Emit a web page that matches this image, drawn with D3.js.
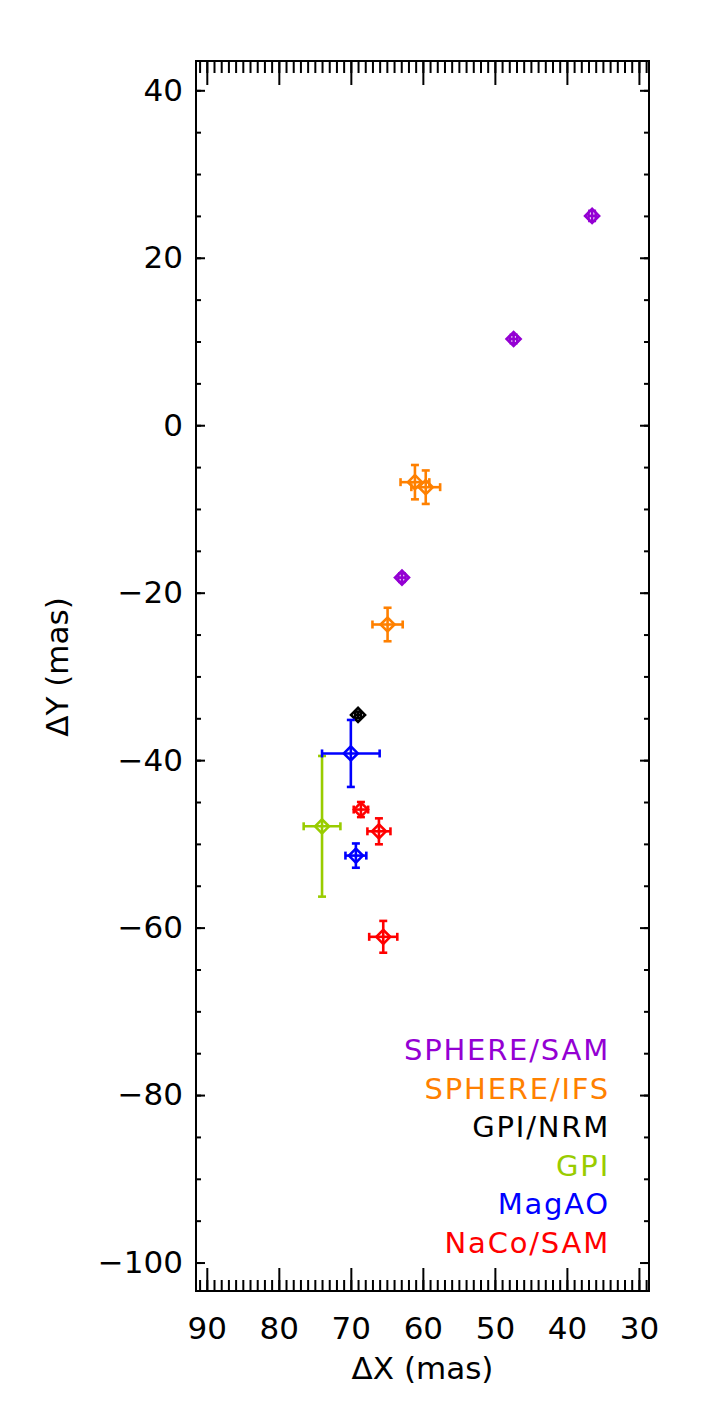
<!DOCTYPE html>
<html lang="en">
<head>
  <meta charset="UTF-8">
  <script src="https://d3js.org/d3.v7.min.js"></script>
  <title>Relative astrometry</title>
  <style>
    body { margin: 0; background: #fff; }
    text { font-family: "DejaVu Sans", sans-serif; }
  </style>
</head>
<body>
  <svg id="chart" width="709" height="1417"></svg>
  <script>
    // instruments (legend order) and their colours
    var instruments = ["SPHERE/SAM", "SPHERE/IFS", "GPI/NRM", "GPI", "MagAO", "NaCo/SAM"];
    var colors = ["#9400d3", "#ff8000", "#000000", "#99cc00", "#0000ff", "#ff0000"];

    // measurements: offset in mas and 1-sigma errors
    var pointInst = ["SPHERE/SAM", "SPHERE/SAM", "SPHERE/SAM",
                     "SPHERE/IFS", "SPHERE/IFS", "SPHERE/IFS",
                     "GPI/NRM", "GPI", "MagAO", "MagAO",
                     "NaCo/SAM", "NaCo/SAM", "NaCo/SAM"];
    var dx   = [36.5, 47.4, 62.9, 61.1, 59.6, 64.9, 69.0, 74.0, 70.0, 69.3, 68.6, 66.1, 65.5];
    var dy   = [25.0, 10.3, -18.2, -6.8, -7.4, -23.8, -34.6, -47.9, -39.2, -51.4, -45.9, -48.5, -61.1];
    var dxErr = [0.5, 0.5, 0.5, 2.0, 2.0, 2.1, 0.4, 2.55, 4.0, 1.45, 1.0, 1.6, 1.95];
    var dyErr = [0.6, 0.5, 0.5, 2.05, 2.0, 2.0, 0.4, 8.4, 4.0, 1.45, 0.9, 1.55, 1.9];

    // axis ticks
    var xMajor = [90, 80, 70, 60, 50, 40, 30];
    var yMajor = [40, 20, 0, -20, -40, -60, -80, -100];
    var xMinor = d3.range(29, 92, 1);
    var yMinor = d3.range(-100, 41, 5);

    var svg = d3.select("#chart");
    var pLeft = 196, pRight = 649, pTop = 61, pBottom = 1291;

    var x = d3.scaleLinear().domain([91.5, 28.6]).range([pLeft, pRight]);
    var y = d3.scaleLinear().domain([43.5, -103.4]).range([pTop, pBottom]);
    var color = d3.scaleOrdinal().domain(instruments).range(colors);

    function style(g) {
      g.attr("font-size", null).attr("font-family", null);
      g.select(".domain").remove();
      g.selectAll(".tick line").attr("stroke", "#000").attr("stroke-width", 2);
      g.selectAll(".tick text").attr("fill", "#000").style("font-size", "31px");
    }

    // bottom axis with labels
    svg.append("g").attr("transform", "translate(0," + pBottom + ")")
      .call(d3.axisBottom(x).tickValues(xMinor).tickSize(-11).tickFormat(""))
      .call(style);
    svg.append("g").attr("transform", "translate(0," + pBottom + ")")
      .call(d3.axisBottom(x).tickValues(xMajor).tickSize(-23).tickPadding(26).tickFormat(d3.format("d")))
      .call(style);
    // top axis mirror
    svg.append("g").attr("transform", "translate(0," + pTop + ")")
      .call(d3.axisTop(x).tickValues(xMinor).tickSize(-12).tickFormat(""))
      .call(style);
    svg.append("g").attr("transform", "translate(0," + pTop + ")")
      .call(d3.axisTop(x).tickValues(xMajor).tickSize(-24).tickFormat(""))
      .call(style);

    // left axis with labels
    svg.append("g").attr("transform", "translate(" + pLeft + ",0)")
      .call(d3.axisLeft(y).tickValues(yMinor).tickSize(-5).tickFormat(""))
      .call(style);
    svg.append("g").attr("transform", "translate(" + pLeft + ",0)")
      .call(d3.axisLeft(y).tickValues(yMajor).tickSize(-9).tickPadding(13).tickFormat(d3.format("d")))
      .call(style);
    // right axis mirror
    svg.append("g").attr("transform", "translate(" + pRight + ",0)")
      .call(d3.axisRight(y).tickValues(yMinor).tickSize(-5).tickFormat(""))
      .call(style);
    svg.append("g").attr("transform", "translate(" + pRight + ",0)")
      .call(d3.axisRight(y).tickValues(yMajor).tickSize(-9).tickFormat(""))
      .call(style);

    // frame
    svg.append("rect")
      .attr("x", pLeft).attr("y", pTop)
      .attr("width", pRight - pLeft).attr("height", pBottom - pTop)
      .attr("fill", "none").attr("stroke", "#000").attr("stroke-width", 2);

    // axis titles
    svg.append("text")
      .attr("x", (pLeft + pRight) / 2).attr("y", 1379)
      .attr("text-anchor", "middle").style("font-size", "31px")
      .text("ΔX (mas)");
    svg.append("text")
      .attr("transform", "translate(68,667) rotate(-90)")
      .attr("text-anchor", "middle").style("font-size", "31px")
      .text("ΔY (mas)");

    // points with error bars
    var pts = dx.map(function(d, i) {
      return { x: d, y: dy[i], ex: dxErr[i], ey: dyErr[i], inst: pointInst[i] };
    });
    var cap = 4, r = 7;
    var g = svg.append("g").selectAll("g").data(pts).enter().append("g")
      .attr("stroke", function(d) { return color(d.inst); })
      .attr("stroke-width", 2.6).attr("fill", "none");

    g.append("line")
      .attr("x1", function(d) { return x(d.x + d.ex); })
      .attr("x2", function(d) { return x(d.x - d.ex); })
      .attr("y1", function(d) { return y(d.y); })
      .attr("y2", function(d) { return y(d.y); });
    g.append("line")
      .attr("x1", function(d) { return x(d.x); })
      .attr("x2", function(d) { return x(d.x); })
      .attr("y1", function(d) { return y(d.y + d.ey); })
      .attr("y2", function(d) { return y(d.y - d.ey); });
    // caps
    g.each(function(d) {
      var s = d3.select(this), cx = x(d.x), cy = y(d.y);
      [x(d.x + d.ex), x(d.x - d.ex)].forEach(function(px) {
        s.append("line").attr("x1", px).attr("x2", px).attr("y1", cy - cap).attr("y2", cy + cap);
      });
      [y(d.y + d.ey), y(d.y - d.ey)].forEach(function(py) {
        s.append("line").attr("x1", cx - cap).attr("x2", cx + cap).attr("y1", py).attr("y2", py);
      });
    });
    // diamond symbol
    g.append("path")
      .attr("d", function(d) {
        var cx = x(d.x), cy = y(d.y);
        return "M" + (cx - r) + "," + cy + "L" + cx + "," + (cy - r) +
               "L" + (cx + r) + "," + cy + "L" + cx + "," + (cy + r) + "Z";
      });

    // legend
    svg.append("g").selectAll("text").data(instruments).enter().append("text")
      .attr("x", 610)
      .attr("y", function(d, i) { return 1060 + i * 38.6; })
      .attr("text-anchor", "end")
      .style("font-size", "29px")
      .style("letter-spacing", "1.8px")
      .attr("fill", function(d) { return color(d); })
      .text(function(d) { return d; });
  </script>
</body>
</html>
